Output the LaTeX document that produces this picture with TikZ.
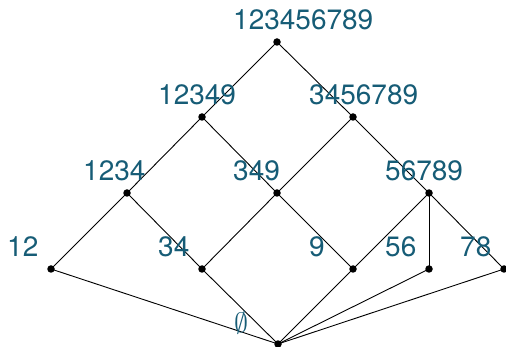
\RequirePackage{fix-cm}
\documentclass[tikz,border=0pt]{standalone}
\usepackage{fontspec}
\setmainfont{TeX Gyre Heros}
\usetikzlibrary{calc}
\definecolor{lblc}{RGB}{22,92,118}
\begin{document}
\begin{tikzpicture}[x=1pt,y=-1pt,
  dot/.style={circle,fill=black,inner sep=0pt,minimum size=7.5pt},
  lbl/.style={anchor=base west,inner sep=0pt,text=lblc,font=\fontsize{28}{30}\selectfont},
  edge/.style={draw=black,line width=0.9pt}]
\useasboundingbox (0,0) rectangle (506,347);
% dots
\coordinate (top) at (277,42);
\coordinate (a) at (202,117);
\coordinate (b) at (353,117);
\coordinate (c) at (127,193);
\coordinate (d) at (277,193);
\coordinate (e) at (429,193);
\coordinate (f) at (51,269);
\coordinate (g) at (202,269);
\coordinate (h) at (353,269);
\coordinate (i) at (429,269);
\coordinate (j) at (504,269);
\coordinate (z) at (278,344);
% edges
\foreach \u/\v in {top/a,top/b,a/c,a/d,b/d,b/e,c/f,c/g,d/g,d/h,e/h,e/i,e/j,z/f,z/g,z/h,z/i,z/j}
  \draw[edge] (\u) -- (\v);
\foreach \p in {top,a,b,c,d,e,f,g,h,i,j,z}
  \node[dot] (n\p) at (\p) {};
% labels
\node[lbl] (ltop) at ($(top)+(-44,-12)$) {123456789};
\node[lbl] (la) at ($(a)+(-44,-12)$) {12349};
\node[lbl] (lb) at ($(b)+(-44,-12)$) {3456789};
\node[lbl] (lc) at ($(c)+(-44,-12)$) {1234};
\node[lbl] (ld) at ($(d)+(-44,-12)$) {349};
\node[lbl] (le) at ($(e)+(-44,-12)$) {56789};
\node[lbl] (lf) at ($(f)+(-44,-12)$) {12};
\node[lbl] (lg) at ($(g)+(-44,-12)$) {34};
\node[lbl] (lh) at ($(h)+(-44,-12)$) {9};
\node[lbl] (li) at ($(i)+(-44,-12)$) {56};
\node[lbl] (lj) at ($(j)+(-44,-12)$) {78};
\node[lbl] (lz) at ($(z)+(-44,-12)$) {$\emptyset$};
\end{tikzpicture}
\end{document}
